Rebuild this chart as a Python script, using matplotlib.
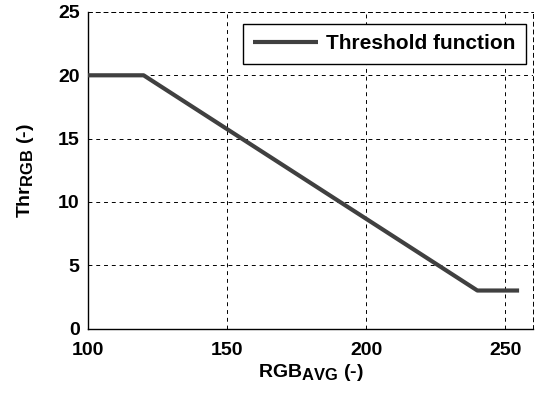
import matplotlib
matplotlib.use("Agg")
import matplotlib.pyplot as plt
try:
    import matplotlib._mathtext as _mt
    _mt.SHRINK_FACTOR = 0.85
except Exception:
    pass

rgb_avg = [100, 120, 240, 255]
thr_rgb = [20, 20, 3, 3]
x_ticks = [100, 150, 200, 250]
y_ticks = [0, 5, 10, 15, 20, 25]

plt.rcParams['font.family'] = ['Liberation Sans', 'DejaVu Sans']
plt.rcParams['font.weight'] = 'bold'
plt.rcParams['mathtext.fontset'] = 'custom'
plt.rcParams['mathtext.rm'] = 'Liberation Sans:bold'
plt.rcParams['mathtext.bf'] = 'Liberation Sans:bold'
plt.rcParams['mathtext.it'] = 'Liberation Sans:bold'

FS = 14
fig = plt.figure(figsize=(5.4, 3.94), dpi=100)
ax = fig.add_axes([88/540, 1 - 328.5/394, (533-88)/540, (328.5-12)/394])

ax.plot(rgb_avg, thr_rgb, color='#404040', lw=3.0, label='Threshold function',
        solid_capstyle='butt', zorder=3)
ax.set_xlim(100, 260)
ax.set_ylim(0, 25)
ax.set_xticks(x_ticks)
ax.set_yticks(y_ticks)
ax.grid(True, color='black', linestyle=(0, (4, 4)), linewidth=0.7)
for s in ['top', 'right']:
    ax.spines[s].set_linestyle((0, (4, 4)))
    ax.spines[s].set_linewidth(0.7)
for s in ['left', 'bottom']:
    ax.spines[s].set_linewidth(1.0)
ax.tick_params(axis='x', direction='in', length=0, labelsize=FS, pad=10)
ax.tick_params(axis='y', direction='in', length=0, labelsize=FS, pad=6)
for lab in ax.get_xticklabels() + ax.get_yticklabels():
    lab.set_fontweight('bold')

ax.set_xlabel(r'RGB$_{\mathrm{AVG}}$ (-)', fontsize=FS, fontweight='bold', labelpad=2)
ax.set_ylabel(r'Thr$_{\mathrm{RGB}}$ (-)', fontsize=FS, fontweight='bold', labelpad=16)

leg = ax.legend(loc='upper right', frameon=True, fancybox=False,
                edgecolor='black', framealpha=1, handlelength=3.1,
                handletextpad=0.4, borderpad=0.5,
                bbox_to_anchor=(526/540, 1 - 24/394), bbox_transform=fig.transFigure,
                borderaxespad=0, prop={'weight': 'bold', 'size': 15})
leg.get_frame().set_linewidth(1.0)

fig.savefig('out.png', dpi=100)
